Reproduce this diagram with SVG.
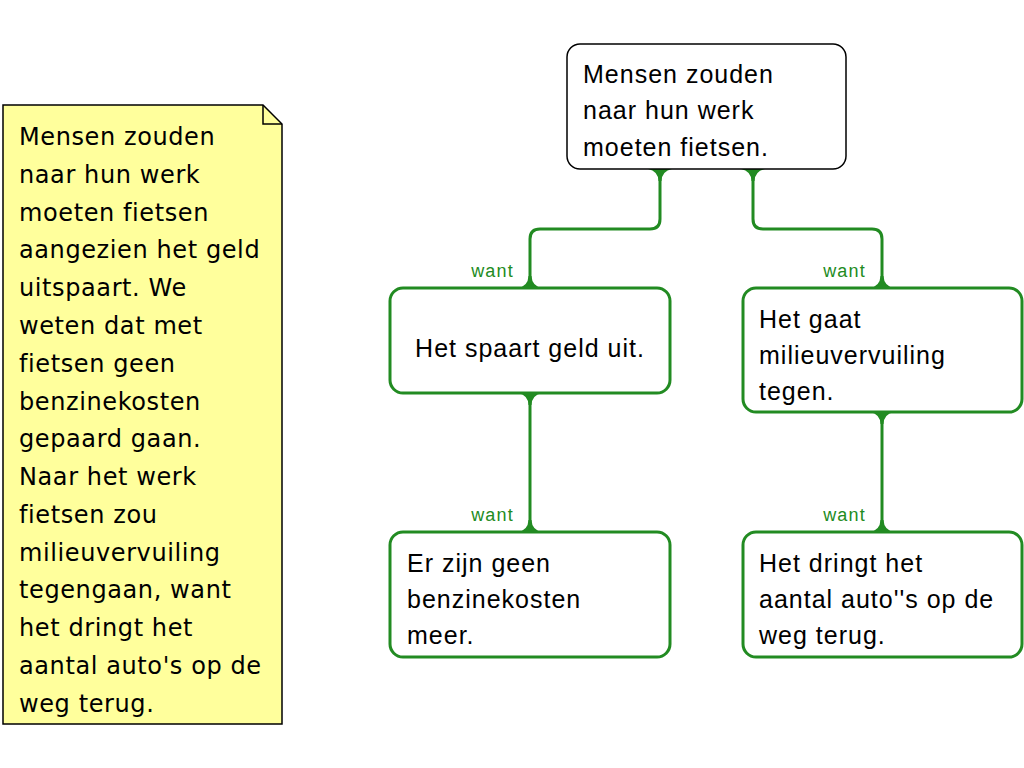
<svg xmlns="http://www.w3.org/2000/svg" width="1024" height="768" viewBox="0 0 1024 768">
<style>
.note{fill:#FFFF9C;stroke:#000;stroke-width:1.5}
.nt{font-family:"Comic Sans MS","DejaVu Sans",sans-serif;font-size:24px;fill:#000;letter-spacing:0.6px}
.box{fill:#fff;stroke:#228B22;stroke-width:3}
.root{fill:#fff;stroke:#000;stroke-width:1.5}
.t{font-family:"Liberation Sans",Arial,sans-serif;font-size:25px;fill:#000;letter-spacing:1px}
.lbl{font-family:"Liberation Sans",Arial,sans-serif;font-size:18px;fill:#228B22;text-anchor:end;letter-spacing:1.2px}
.c{fill:none;stroke:#228B22;stroke-width:3}
.f{fill:#228B22}
</style>
<rect width="1024" height="768" fill="#fff"/>
<g id="note">
<path class="note" d="M3,105 H263 L282,124 V724 H3 Z"/>
<path d="M263,105 V124 H282" fill="none" stroke="#000" stroke-width="1.5"/>
<text class="nt" x="19" y="145">Mensen zouden</text>
<text class="nt" x="19" y="183">naar hun werk</text>
<text class="nt" x="19" y="221">moeten fietsen</text>
<text class="nt" x="19" y="258">aangezien het geld</text>
<text class="nt" x="19" y="296">uitspaart. We</text>
<text class="nt" x="19" y="334">weten dat met</text>
<text class="nt" x="19" y="372">fietsen geen</text>
<text class="nt" x="19" y="410">benzinekosten</text>
<text class="nt" x="19" y="447">gepaard gaan.</text>
<text class="nt" x="19" y="485">Naar het werk</text>
<text class="nt" x="19" y="523">fietsen zou</text>
<text class="nt" x="19" y="561">milieuvervuiling</text>
<text class="nt" x="19" y="598">tegengaan, want</text>
<text class="nt" x="19" y="636">het dringt het</text>
<text class="nt" x="19" y="674">aantal auto's op de</text>
<text class="nt" x="19" y="712">weg terug.</text>
</g>
<g id="connectors">
<path class="c" d="M660,169 V219 Q660,229 650,229 H540 Q530,229 530,239 V288"/>
<path class="c" d="M753,169 V219 Q753,229 763,229 H872 Q882,229 882,239 V288"/>
<path class="c" d="M530,393 V532"/>
<path class="c" d="M882,412 V532"/>
<path class="f" d="M648,169 Q658,171 658.5,181 H661.5 Q662,171 672,169 Z"/>
<path class="f" d="M741,169 Q751,171 751.5,181 H754.5 Q755,171 765,169 Z"/>
<path class="f" d="M518,288 Q528,286 528.5,276 H531.5 Q532,286 542,288 Z"/>
<path class="f" d="M870,288 Q880,286 880.5,276 H883.5 Q884,286 894,288 Z"/>
<path class="f" d="M518,393 Q528,395 528.5,405 H531.5 Q532,395 542,393 Z"/>
<path class="f" d="M870,412 Q880,414 880.5,424 H883.5 Q884,414 894,412 Z"/>
<path class="f" d="M518,532 Q528,530 528.5,520 H531.5 Q532,530 542,532 Z"/>
<path class="f" d="M870,532 Q880,530 880.5,520 H883.5 Q884,530 894,532 Z"/>
<text class="lbl" x="514" y="277">want</text>
<text class="lbl" x="866" y="277">want</text>
<text class="lbl" x="514" y="521">want</text>
<text class="lbl" x="866" y="521">want</text>
</g>
<g id="root">
<rect class="root" x="567" y="44" width="279" height="125" rx="13"/>
<text class="t" x="583" y="83">Mensen zouden</text>
<text class="t" x="583" y="119">naar hun werk</text>
<text class="t" x="583" y="156">moeten fietsen.</text>
</g>
<g id="n1">
<rect class="box" x="390" y="288" width="280" height="105" rx="13"/>
<text class="t" x="530" y="357" text-anchor="middle">Het spaart geld uit.</text>
</g>
<g id="n2">
<rect class="box" x="743" y="288" width="279" height="124" rx="13"/>
<text class="t" x="759" y="328">Het gaat</text>
<text class="t" x="759" y="364">milieuvervuiling</text>
<text class="t" x="759" y="400">tegen.</text>
</g>
<g id="n3">
<rect class="box" x="390" y="532" width="280" height="125" rx="13"/>
<text class="t" x="407" y="572">Er zijn geen</text>
<text class="t" x="407" y="608">benzinekosten</text>
<text class="t" x="407" y="644">meer.</text>
</g>
<g id="n4">
<rect class="box" x="743" y="532" width="279" height="125" rx="13"/>
<text class="t" x="759" y="572">Het dringt het</text>
<text class="t" x="759" y="608">aantal auto''s op de</text>
<text class="t" x="759" y="644">weg terug.</text>
</g>
</svg>
